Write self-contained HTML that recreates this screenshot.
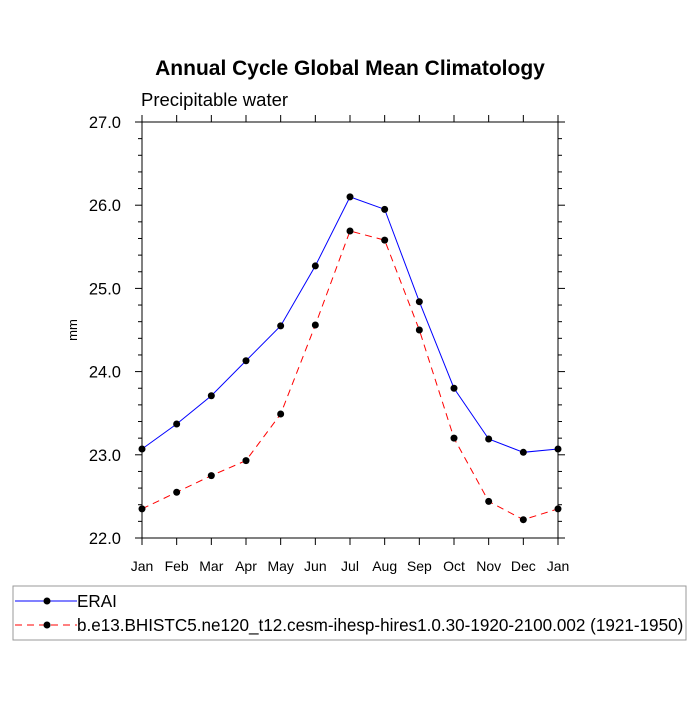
<!DOCTYPE html>
<html><head><meta charset="utf-8"><style>
body{margin:0;background:#fff;}
svg text{font-family:"Liberation Sans",Arial,sans-serif;}
</style></head><body>
<svg id="chart" width="700" height="700" xmlns="http://www.w3.org/2000/svg">
<text x="350" y="75" text-anchor="middle" font-size="21" font-weight="bold">Annual Cycle Global Mean Climatology</text>
<text x="141" y="106" font-size="18.5">Precipitable water</text>
<text x="77" y="330" font-size="13" text-anchor="middle" transform="rotate(-90 77 330)">mm</text>
<rect x="142" y="122" width="416" height="416" fill="none" stroke="#000" stroke-width="1"/>
<g id="axes"></g>
<g id="series"></g>
<rect x="13" y="586" width="673" height="54" fill="none" stroke="#999" stroke-width="1"/>
<g>
<line x1="15" y1="601" x2="77" y2="601" stroke="#00f" stroke-width="1"/>
<circle cx="47" cy="601" r="3.5" fill="#000"/>
<text x="77" y="607" font-size="17.1">ERAI</text>
</g>
<g>
<line x1="15" y1="625" x2="77" y2="625" stroke="#f00" stroke-width="1" stroke-dasharray="7,5"/>
<circle cx="47" cy="625" r="3.5" fill="#000"/>
<text x="77" y="631" font-size="17.1">b.e13.BHISTC5.ne120_t12.cesm-ihesp-hires1.0.30-1920-2100.002 (1921-1950)</text>
</g>
</svg>
<script>
const months = ["Jan","Feb","Mar","Apr","May","Jun","Jul","Aug","Sep","Oct","Nov","Dec","Jan"];
const eraiValues = [23.07,23.37,23.71,24.13,24.55,25.27,26.10,25.95,24.84,23.80,23.19,23.03,23.07];
const modelValues = [22.35,22.55,22.75,22.93,23.49,24.56,25.69,25.58,24.50,23.20,22.44,22.22,22.35];
const yTickLabels = ["22.0","23.0","24.0","25.0","26.0","27.0"];

const NS="http://www.w3.org/2000/svg";
const X0=142,X1=558,Y0=538,Y1=122,YMIN=22,YMAX=27;
const xs=i=>X0+(X1-X0)*i/(months.length-1);
const ys=v=>Y0-(v-YMIN)/(YMAX-YMIN)*(Y0-Y1);
function mk(tag,attrs,parent){const e=document.createElementNS(NS,tag);for(const k in attrs)e.setAttribute(k,attrs[k]);parent.appendChild(e);return e;}
const axes=document.getElementById('axes');
months.forEach((m,i)=>{
  const x=xs(i);
  let t=mk('line',{x1:x,y1:Y0,x2:x,y2:Y0+7,stroke:'#000'},axes);
  
  
  t=mk('line',{x1:x,y1:Y1,x2:x,y2:Y1-7,stroke:'#000'},axes);
  
  
  const l=mk('text',{x:x,y:571,'font-size':14,'text-anchor':'middle'},axes);
  l.textContent=m;
  
  
});
for(let k=0;k<=25;k++){
  const v=YMIN+k*0.2, y=ys(v), major=k%5===0, len=major?7:4;
  let t=mk('line',{x1:X0-len,y1:y,x2:X0,y2:y,stroke:'#000'},axes);
  
  
  t=mk('line',{x1:X1,y1:y,x2:X1+len,y2:y,stroke:'#000'},axes);
  
  
}
yTickLabels.forEach(s=>{
  const l=mk('text',{x:X0-21,y:ys(parseFloat(s))+6,'font-size':16.5,'text-anchor':'end'},axes);
  l.textContent=s;
  
  
});
const series=document.getElementById('series');
function draw(vals,color,dash,name){
  const p=mk('polyline',{points:vals.map((v,i)=>xs(i)+','+ys(v)).join(' '),fill:'none',stroke:color,'stroke-width':1,'stroke-dasharray':dash},series);
  
  
  vals.forEach((v,i)=>{
    const c=mk('circle',{cx:xs(i),cy:ys(v),r:3.5,fill:'#000'},series);
    
    
  });
}
draw(eraiValues,'#00f','none','erai');
draw(modelValues,'#f00','7,5','model');
</script>
</body></html>
